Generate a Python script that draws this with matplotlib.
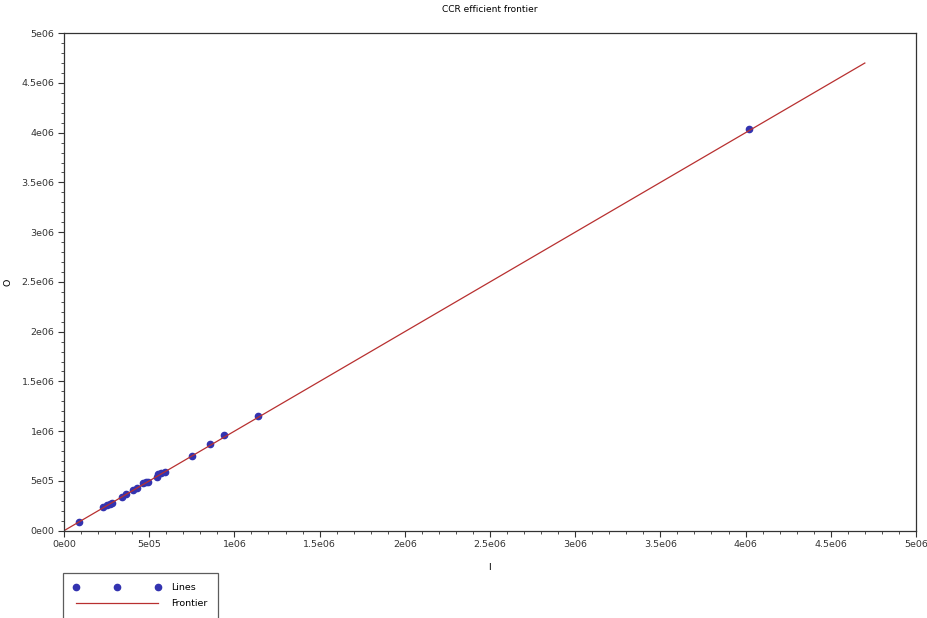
import matplotlib.pyplot as plt
from matplotlib.ticker import MultipleLocator

# DMU inputs (I) and outputs (O)
inputs = [0.088e6, 0.231e6, 0.25e6, 0.27e6, 0.28e6, 0.339e6, 0.362e6,
          0.407e6, 0.427e6, 0.466e6, 0.481e6, 0.495e6, 0.544e6, 0.554e6,
          0.568e6, 0.593e6, 0.75e6, 0.859e6, 0.941e6, 1.141e6, 4.02e6]
outputs = [0.087e6, 0.238e6, 0.255e6, 0.27e6, 0.275e6, 0.339e6, 0.366e6,
           0.406e6, 0.432e6, 0.479e6, 0.486e6, 0.489e6, 0.543e6, 0.567e6,
           0.583e6, 0.593e6, 0.748e6, 0.874e6, 0.959e6, 1.156e6, 4.04e6]

frontier_x = [0, 4.7e6]
frontier_y = [0, 4.7e6]

x_ticks = [0, 5e5, 1e6, 1.5e6, 2e6, 2.5e6, 3e6, 3.5e6, 4e6, 4.5e6, 5e6]
tick_labels = ['0e00', '5e05', '1e06', '1.5e06', '2e06', '2.5e06', '3e06',
               '3.5e06', '4e06', '4.5e06', '5e06']

fig = plt.figure(figsize=(9.28, 6.18), dpi=100)
ax = fig.add_axes([0.069, 0.1413, 0.918, 0.805])

ax.plot(inputs, outputs, 'o', color='#3333b0', markersize=4.5, label='Lines')
ax.plot(frontier_x, frontier_y, '-', color='#b83030', linewidth=0.9, label='Frontier')

ax.set_xlim(0, 5e6)
ax.set_ylim(0, 5e6)
ax.set_xticks(x_ticks)
ax.set_xticklabels(tick_labels)
ax.set_yticks(x_ticks)
ax.set_yticklabels(tick_labels)
ax.xaxis.set_minor_locator(MultipleLocator(1e5))
ax.yaxis.set_minor_locator(MultipleLocator(1e5))
ax.tick_params(which='major', direction='out', length=4, width=0.8,
               labelsize=6.8, colors='#333333', pad=3)
ax.tick_params(which='minor', direction='out', length=2.5, width=0.6,
               colors='#333333')
for sp in ax.spines.values():
    sp.set_color('#333333')
    sp.set_linewidth(0.9)

ax.set_title('CCR efficient frontier', fontsize=6.5, pad=15)
ax.set_xlabel('I', fontsize=6.8, labelpad=10)
ax.set_ylabel('O', fontsize=6.8, rotation=90)
ax.yaxis.set_label_coords(-0.061, 0.5)

leg = fig.legend(loc='upper left', bbox_to_anchor=(0.068, 0.073),
                 numpoints=3, handlelength=9.2, fontsize=6.8, frameon=True,
                 fancybox=False, edgecolor='#333333', borderpad=1.1,
                 labelspacing=0.75, handletextpad=1.1, borderaxespad=0)
leg.get_frame().set_linewidth(0.9)

fig.savefig('out.png', dpi=100)
